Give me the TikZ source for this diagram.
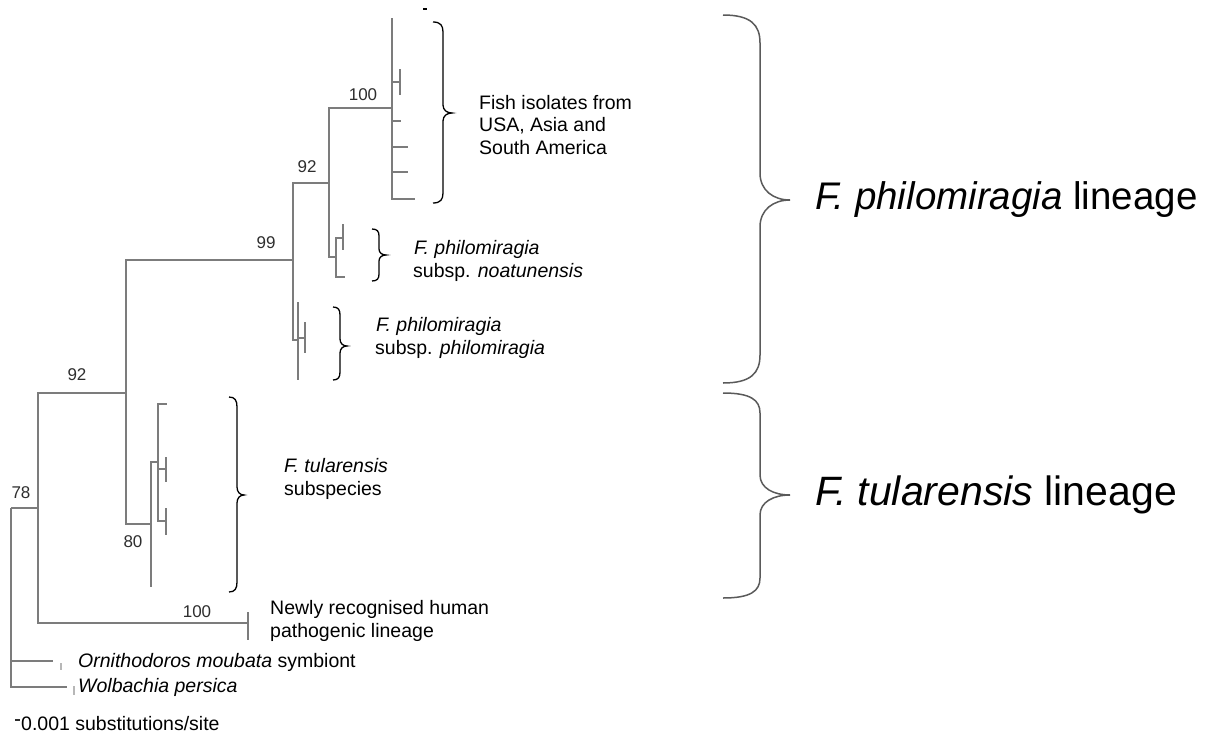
\documentclass[tikz,border=0pt]{standalone}
\usepackage{fontspec}
\setmainfont{Liberation Sans}
\definecolor{treegray}{HTML}{7C7C7C}
\definecolor{bracegray}{HTML}{5A5A5A}
\definecolor{labelgray}{HTML}{2E2E2E}

% curly brace opening to the left: style, x left, x stem, x tip,
% y top, y tip, y bottom, end-curve height, tip-curve height
\newcommand\curlybrace[9]{%
  \draw[#1] (#2,#5) .. controls ({#2+0.75*(#3-#2)},#5) and (#3,{#5+0.35*#8}) .. (#3,{#5+#8})
    -- (#3,{#6-#9}) .. controls (#3,{#6-0.35*#9}) and ({#4-0.55*(#4-#3)},#6) .. (#4,#6)
    .. controls ({#4-0.55*(#4-#3)},#6) and (#3,{#6+0.35*#9}) .. (#3,{#6+#9})
    -- (#3,{#7-#8}) .. controls (#3,{#7-0.35*#8}) and ({#2+0.75*(#3-#2)},#7) .. (#2,#7);}

\tikzset{
  branch/.style={draw=treegray, line width=1.4pt},
  faint/.style={draw=treegray!55, line width=1.2pt},
  support/.style={text=labelgray, font=\fontsize{17}{19}\selectfont, inner sep=0pt},
  note/.style={font=\fontsize{19.5}{22.5}\selectfont, align=left, anchor=west, inner sep=0pt},
  lineage/.style={anchor=west, inner sep=0pt},
  smallbrace/.style={draw=black, line width=1.3pt},
  bigbrace/.style={draw=bracegray, line width=1.5pt},
}

\begin{document}
\begin{tikzpicture}[x=1pt, y=-1pt]
\fill[white] (0,0) rectangle (1212,736);
\useasboundingbox (0,0) rectangle (1212,736);

% ---- internal nodes (x of the vertical line, y of the incoming branch)
\coordinate (root) at (11,508);
\coordinate (n78)  at (38,508);
\coordinate (n92a) at (126,393);
\coordinate (n99)  at (293,260);
\coordinate (n92b) at (329,183);
\coordinate (n100) at (392,108);
\coordinate (nnoa) at (336,257);
\coordinate (nphi) at (298,340);
\coordinate (n80)  at (151,524);
\coordinate (ntul) at (158,462);
\coordinate (nnew) at (248,623);
% ---- tips and small subclades
\coordinate (orn) at (53,661);
\coordinate (wol) at (67,687);
\coordinate (fa) at (392,18);
\coordinate (fb) at (400,82);
\coordinate (fc) at (401,121);
\coordinate (fd) at (408,147);
\coordinate (fe) at (408,172);
\coordinate (ff) at (415,199);
\coordinate (na) at (343,238);
\coordinate (nb) at (345,277);
\coordinate (pa) at (298,302);
\coordinate (pb) at (298,380);
\coordinate (pc) at (305,338);
\coordinate (ta) at (151,587);
\coordinate (tc) at (167,404);
\coordinate (td) at (166,469);
\coordinate (te) at (166,521);

% ---- branches
\draw[branch] (root) |- (n78);
\draw[branch] (root) |- (orn);
\draw[branch] (root) |- (wol);
\draw[branch] (n78) |- (n92a);
\draw[branch] (n78) |- (nnew);
\draw[branch] (n92a) |- (n99);
\draw[branch] (n92a) |- (n80);
\draw[branch] (n99) |- (n92b);
\draw[branch] (n99) |- (nphi);
\draw[branch] (n92b) |- (n100);
\draw[branch] (n92b) |- (nnoa);
\foreach \t in {fa,fb,fc,fd,fe,ff} \draw[branch] (n100) |- (\t);
\draw[branch] (nnoa) |- (na);
\draw[branch] (nnoa) |- (nb);
\draw[branch] (nphi) |- (pa);
\draw[branch] (nphi) |- (pb);
\draw[branch] (nphi) |- (pc);
\draw[branch] (n80) |- (ntul);
\draw[branch] (n80) |- (ta);
\draw[branch] (ntul) |- (tc);
\draw[branch] (ntul) |- (td);
\draw[branch] (ntul) |- (te);

% ---- short terminal pairs
\draw[branch] ([yshift=13pt]fb) -- ([yshift=-13pt]fb);
\draw[branch] ([yshift=14pt]na) -- ([yshift=-12pt]na);
\draw[branch] ([yshift=16pt]pc) -- ([yshift=-15pt]pc);
\draw[branch] ([yshift=12pt]td) -- ([yshift=-13pt]td);
\draw[branch] ([yshift=13pt]te) -- ([yshift=-14pt]te);
\draw[branch] ([yshift=11pt]nnew) -- ([yshift=-17pt]nnew);
\draw[faint] (61,663) -- (61,670);
\draw[faint] (74,686) -- (74,695);

% ---- bootstrap values
\node[support] (s100a) at (363,95) {100};
\node[support] (s92b)  at (307,167) {92};
\node[support] (s99)   at (266,243) {99};
\node[support] (s92a)  at (77,375) {92};
\node[support] (s78)   at (21,493) {78};
\node[support] (s80)   at (133,542) {80};
\node[support] (s100b) at (197,612) {100};

% ---- clade braces
\curlybrace{smallbrace}{433}{443}{452}{22}{113}{203}{10}{8}
\curlybrace{smallbrace}{372}{379}{386}{229}{255}{281}{7}{6}
\curlybrace{smallbrace}{333}{340}{347}{307}{346}{380}{8}{7}
\curlybrace{smallbrace}{229}{237}{244}{397}{495}{592}{10}{8}
\curlybrace{bigbrace}{723}{760}{790}{15}{200}{383}{28}{27}
\curlybrace{bigbrace}{723}{760}{790}{393}{495}{598}{20}{20}

% ---- clade names
\node[note] (fish) at (479,125) {Fish isolates from\\USA, Asia and\\South America};
\node[note] (noat) at (413,261) {\hspace*{1pt}\textit{F. philomiragia}\\subsp. \textit{noatunensis}};
\node[note] (phil) at (375,338) {\hspace*{1pt}\textit{F. philomiragia}\\subsp. \textit{philomiragia}};
\node[note] (tula) at (284,479) {\textit{F. tularensis}\\subspecies};
\node[note] (newl) at (270,621) {Newly recognised human\\pathogenic lineage};
\node[note] (ornl) at (78,662) {\textit{Ornithodoros moubata} symbiont};
\node[note] (woll) at (78,687) {\textit{Wolbachia persica}};

\node[lineage, font=\fontsize{38.5}{44}\selectfont] (philin) at (815,200) {\textit{F. philomiragia} lineage};
\node[lineage, font=\fontsize{41}{46}\selectfont] (tullin) at (815,495) {\textit{F. tularensis} lineage};

% ---- scale bar
\draw[draw=labelgray, line width=1.2pt] (15,720) coordinate (sb1) -- (20,720) coordinate (sb2);
\node[note] (scale) at (21,724) {0.001 substitutions/site};
\draw[draw=black, line width=1.2pt] (423,9) coordinate (tk1) -- (427,9) coordinate (tk2);
\end{tikzpicture}
\end{document}
